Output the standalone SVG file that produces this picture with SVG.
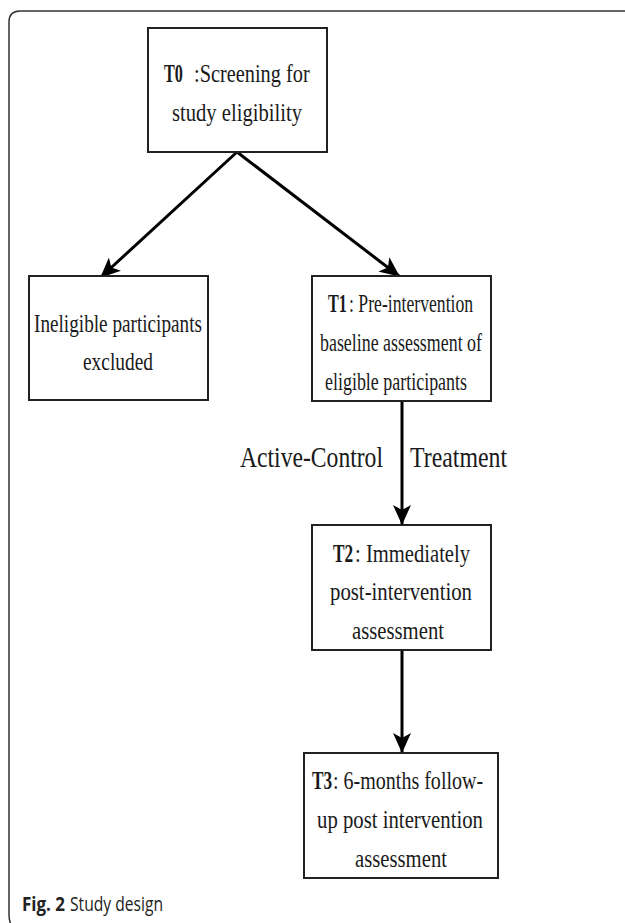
<svg xmlns="http://www.w3.org/2000/svg" width="625" height="923" viewBox="0 0 625 923">
<defs>
<marker id="ah" markerWidth="20" markerHeight="18" refX="19" refY="9" orient="auto" markerUnits="userSpaceOnUse">
<path d="M0,0 L20,9 L0,18 L5,9 Z" fill="#000"/>
</marker>
<style>
.box{fill:#fff;stroke:#222;stroke-width:2}
.t{font-family:"Liberation Serif","Times New Roman",serif;font-size:26px;fill:#1a1a1a;text-anchor:middle}
.s{font-family:"Liberation Serif","Times New Roman",serif;font-size:26px;fill:#1a1a1a}
.lb{font-family:"Liberation Serif","Times New Roman",serif;font-size:30px;fill:#1a1a1a}
.b{font-weight:bold}
.c{stroke:#000;stroke-width:3;fill:none}
.cap{font-family:"Open Sans","Noto Sans",sans-serif;font-size:20px;fill:#222}
</style>
</defs>
<rect width="625" height="923" fill="#fff"/>
<path d="M640,11 L20,11 Q9,11 9,22 L9,915 Q9,922 12,926" fill="none" stroke="#333" stroke-width="1.5"/>
<g id="connectors">
<line class="c" x1="237" y1="152" x2="101" y2="277" marker-end="url(#ah)"/>
<line class="c" x1="237" y1="152" x2="399" y2="276" marker-end="url(#ah)"/>
<line class="c" x1="402" y1="401" x2="402" y2="524" marker-end="url(#ah)"/>
<line class="c" x1="402" y1="650" x2="402" y2="752" marker-end="url(#ah)"/>
<text class="lb" x="240" y="467" textLength="143" lengthAdjust="spacingAndGlyphs">Active-Control</text>
<text class="lb" x="410" y="467" textLength="97" lengthAdjust="spacingAndGlyphs">Treatment</text>
</g>
<g id="T0">
<rect class="box" x="148" y="28" width="179" height="124"/>
<text class="s b" transform="translate(164,82) scale(0.65,1)" textLength="29" lengthAdjust="spacingAndGlyphs">T0</text>
<text class="s" transform="translate(194,82) scale(0.65,1)" textLength="178" lengthAdjust="spacingAndGlyphs">:Screening for</text>
<text class="t" x="237" y="121" textLength="130" lengthAdjust="spacingAndGlyphs">study eligibility</text>
</g>
<g id="excluded">
<rect class="box" x="29" y="276" width="179" height="124"/>
<text class="t" x="118" y="332" textLength="168" lengthAdjust="spacingAndGlyphs">Ineligible participants</text>
<text class="t" x="118" y="370" textLength="70" lengthAdjust="spacingAndGlyphs">excluded</text>
</g>
<g id="T1">
<rect class="box" x="312" y="276" width="179" height="125"/>
<text class="s b" transform="translate(328,312) scale(0.65,1)" textLength="29" lengthAdjust="spacingAndGlyphs">T1</text>
<text class="s" transform="translate(349,312) scale(0.65,1)" textLength="191" lengthAdjust="spacingAndGlyphs">: Pre-intervention</text>
<text class="t" x="401" y="351" textLength="162" lengthAdjust="spacingAndGlyphs">baseline assessment of</text>
<text class="t" x="396" y="390" textLength="142" lengthAdjust="spacingAndGlyphs">eligible participants</text>
</g>
<g id="T2">
<rect class="box" x="312" y="525" width="179" height="125"/>
<text class="s b" transform="translate(333,562) scale(0.65,1)" textLength="31" lengthAdjust="spacingAndGlyphs">T2</text>
<text class="s" transform="translate(355,562) scale(0.65,1)" textLength="177" lengthAdjust="spacingAndGlyphs">: Immediately</text>
<text class="t" x="401" y="600" textLength="142" lengthAdjust="spacingAndGlyphs">post-intervention</text>
<text class="t" x="398" y="639" textLength="92" lengthAdjust="spacingAndGlyphs">assessment</text>
</g>
<g id="T3">
<rect class="box" x="304" y="753" width="194" height="125"/>
<text class="s b" transform="translate(312,789) scale(0.65,1)" textLength="31" lengthAdjust="spacingAndGlyphs">T3</text>
<text class="s" transform="translate(333,789) scale(0.65,1)" textLength="231" lengthAdjust="spacingAndGlyphs">: 6-months follow-</text>
<text class="t" x="400" y="828" textLength="166" lengthAdjust="spacingAndGlyphs">up post intervention</text>
<text class="t" x="401" y="867" textLength="92" lengthAdjust="spacingAndGlyphs">assessment</text>
</g>
<text class="cap b" x="22" y="911" textLength="43" lengthAdjust="spacingAndGlyphs">Fig. 2</text>
<text class="cap" x="70" y="911" textLength="93" lengthAdjust="spacingAndGlyphs">Study design</text>
</svg>
